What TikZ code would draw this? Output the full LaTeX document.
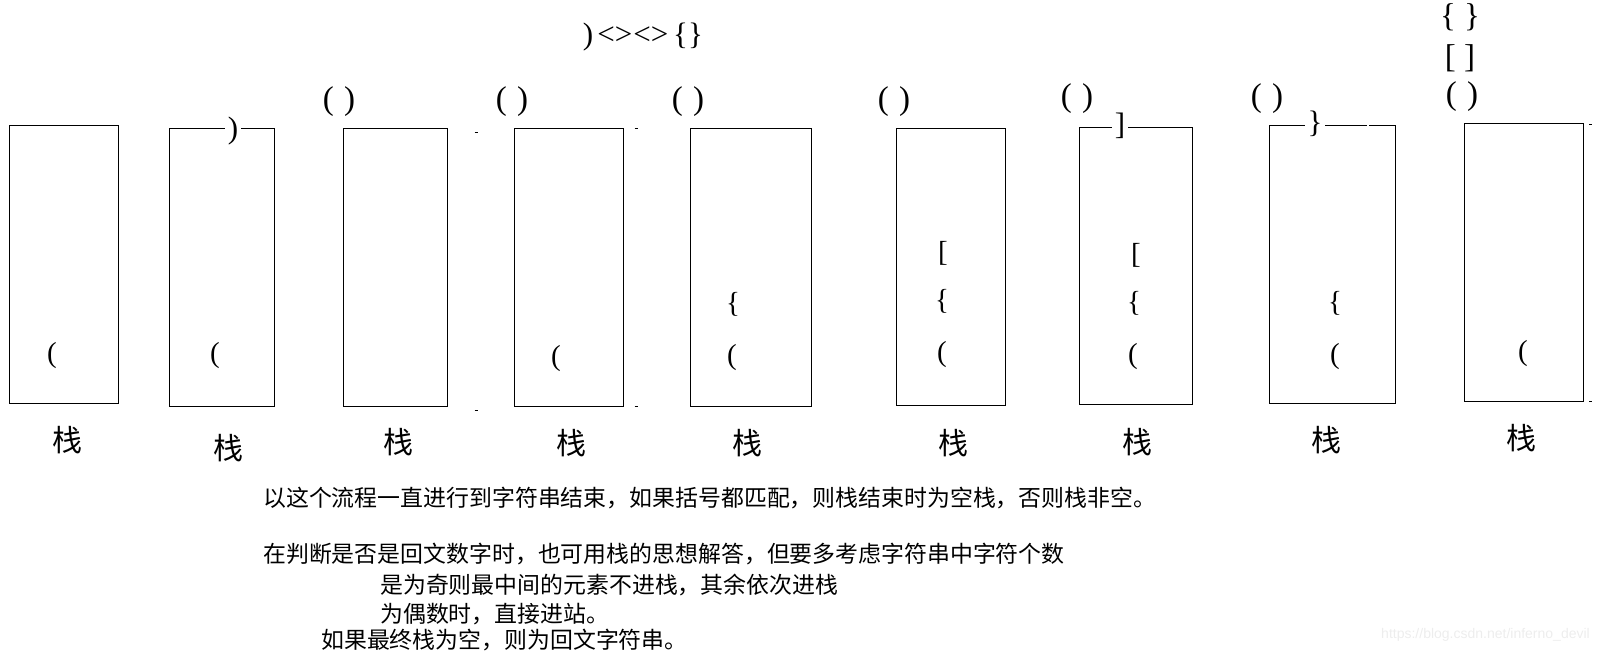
\documentclass[tikz,border=0pt]{standalone}
\usepackage{fontspec}
\setmainfont{Liberation Serif}
\newfontfamily\cjk{Noto Sans CJK SC}
\newfontfamily\wmfont{Liberation Sans}
\begin{document}
\begin{tikzpicture}[x=1pt,y=-1pt,
  boxst/.style={draw, line width=1.2pt, inner sep=0pt, anchor=north west},
  br/.style={font=\fontsize{29}{29}\selectfont, inner sep=0pt},
  brtop/.style={font=\fontsize{33}{33}\selectfont, inner sep=0pt},
  gapbr/.style={font=\fontsize{31}{31}\selectfont, fill=white, inner xsep=3pt, inner ysep=0pt},
  lbl/.style={font=\cjk\fontsize{30}{30}\selectfont, inner sep=0pt},
  txt/.style={font=\cjk\fontsize{22.9}{22.9}\selectfont, inner sep=0pt, anchor=west},
  tick/.style={line width=0.9pt}]
\useasboundingbox (0,0) rectangle (1599,653);

% stacks
\node[boxst, minimum width=109pt, minimum height=278pt] (s1) at (9,125) {};
\node[boxst, minimum width=105pt, minimum height=278pt] (s2) at (169,128) {};
\node[boxst, minimum width=104pt, minimum height=278pt] (s3) at (343,128) {};
\node[boxst, minimum width=109pt, minimum height=278pt] (s4) at (514,128) {};
\node[boxst, minimum width=121pt, minimum height=278pt] (s5) at (690,128) {};
\node[boxst, minimum width=109pt, minimum height=277pt] (s6) at (896,128) {};
\node[boxst, minimum width=113pt, minimum height=277pt] (s7) at (1079,127) {};
\node[boxst, minimum width=126pt, minimum height=278pt] (s8) at (1269,125) {};
\node[boxst, minimum width=119pt, minimum height=278pt] (s9) at (1464,123) {};

% labels
\node[lbl] (l1) at (67,440) {栈};
\node[lbl] (l2) at (228,448) {栈};
\node[lbl] (l3) at (398,442) {栈};
\node[lbl] (l4) at (571,443) {栈};
\node[lbl] (l5) at (747,443) {栈};
\node[lbl] (l6) at (953,443) {栈};
\node[lbl] (l7) at (1137,442) {栈};
\node[lbl] (l8) at (1326,440) {栈};
\node[lbl] (l9) at (1521,438) {栈};

% input sequence
\node[font=\fontsize{31}{31}\selectfont, inner sep=0pt] (seq) at (643,37) {)\kern4pt<>\kern1pt<>\kern5pt\{\}};

% stack 1
\node[br] (a1) at (52,356) {(};
% stack 2
\node[br] (b1) at (215,356) {(};
\node[gapbr] (b2) at (233,131) {)};
% stack 3
\node[brtop] (c0) at (339,102) {(\kern2pt\ )};
% stack 4
\node[brtop] (d0) at (512,102) {(\kern2pt\ )};
\node[br] (d1) at (556,359) {(};
% stack 5
\node[brtop] (e0) at (688,102) {(\kern2pt\ )};
\node[br] (e1) at (732,358) {(};
\node[br] (e2) at (733,304) {\{};
% stack 6
\node[brtop] (f0) at (894,102) {(\kern2pt\ )};
\node[br] (f1) at (942,355) {(};
\node[br] (f2) at (942,301) {\{};
\node[br] (f3) at (943,253) {[};
% stack 7
\node[brtop] (g0) at (1077,99) {(\kern2pt\ )};
\node[gapbr] (g4) at (1120,126) {]};
\node[br] (g1) at (1133,357) {(};
\node[br] (g2) at (1134,303) {\{};
\node[br] (g3) at (1136,255) {[};
% stack 8
\node[brtop] (h0) at (1267,99) {(\kern2pt\ )};
\node[gapbr] (h4) at (1315,124) {\}};
\node[br] (h1) at (1335,357) {(};
\node[br] (h2) at (1335,303) {\{};
\fill[white] (1367,122) rectangle (1369,128);
% stack 9
\node[brtop] (i3) at (1460,17) {\{ \}};
\node[brtop] (i2) at (1460,58) {[ ]};
\node[brtop] (i1) at (1462,97) {(\kern2pt\ )};
\node[br] (i0) at (1523,354) {(};

% small tick marks
\draw[tick] (474.5,132) -- (477.5,132);
\draw[tick] (474.5,410) -- (477.5,410);
\draw[tick] (634.5,128) -- (637.5,128);
\draw[tick] (634.5,406) -- (637.5,406);
\draw[tick] (1589,124) -- (1592,124);
\draw[tick] (1589,401) -- (1592,401);

% text
\node[txt] (t1) at (263,498) {以这个流程一直进行到字符串结束，如果括号都匹配，则栈结束时为空栈，否则栈非空。};
\node[txt] (t2) at (263,554) {在判断是否是回文数字时，也可用栈的思想解答，但要多考虑字符串中字符个数};
\node[txt] (t3) at (380,585) {是为奇则最中间的元素不进栈，其余依次进栈};
\node[txt] (t4) at (380,614) {为偶数时，直接进站。};
\node[txt] (t5) at (321,640) {如果最终栈为空，则为回文字符串。};

% watermark
\node[font=\wmfont\fontsize{14}{14}\selectfont, text=black!7, inner sep=0pt, anchor=east] (wm) at (1590,635) {https://blog.csdn.net/inferno\_devil};
\end{tikzpicture}
\end{document}
